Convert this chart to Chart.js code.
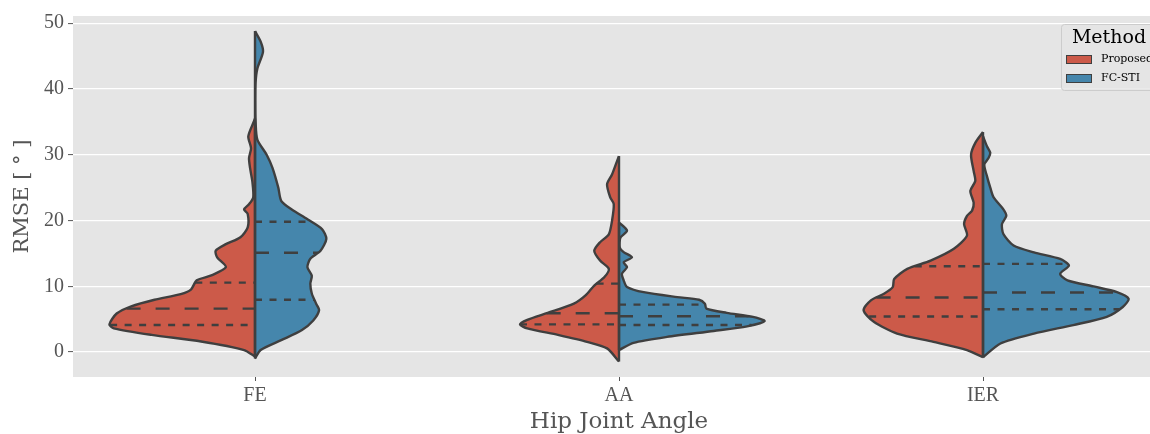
<!DOCTYPE html>
<html>
<head>
<meta charset="utf-8">
<script src="https://cdn.jsdelivr.net/npm/chart.js@4.4.1/dist/chart.umd.min.js"></script>
<style>
  html, body { margin: 0; padding: 0; background: #ffffff; width: 1150px; height: 434px; overflow: hidden; }
  #wrap { width: 1180px; height: 434px; }
</style>
</head>
<body>
<div id="wrap"><canvas id="c" width="1180" height="434"></canvas></div>
<script>
// ---- data ---------------------------------------------------------------
const categories = ['FE', 'AA', 'IER'];
const methods = ['Proposed', 'FC-STI'];
const yTicks = [0, 10, 20, 30, 40, 50];

// Kernel density profiles (RMSE level in degrees, relative density 0..1)
const feProposedLevels  = [-0.7, 0.3, 1.6, 2.6, 3.6, 4.2, 5.85, 6.95, 7.95, 8.8, 9.5, 10.9, 11.65, 12.9, 14.4, 15.4, 16.4, 17.45, 18.95, 21.0, 21.7, 22.5, 23.5, 25.9, 28.0, 29.5, 31.0, 32.8, 35.1, 35.5];
const feProposedDensity = [0, 0.075, 0.37, 0.71, 0.97, 1.0, 0.95, 0.85, 0.69, 0.51, 0.44, 0.40, 0.30, 0.20, 0.26, 0.27, 0.20, 0.10, 0.05, 0.05, 0.075, 0.04, 0.012, 0.018, 0.034, 0.041, 0.027, 0.046, 0.007, 0];

const feFcstiLevels  = [-1.0, 0.3, 1.8, 3.3, 4.8, 6.35, 7.35, 8.9, 10.4, 11.6, 12.9, 14.2, 15.4, 17.2, 18.7, 20.2, 21.7, 23.0, 25.0, 28.0, 30.0, 32.3, 35.0, 38.1, 41.0, 43.1, 45.65, 47.2, 48.8];
const feFcstiDensity = [0, 0.039, 0.18, 0.32, 0.40, 0.44, 0.42, 0.39, 0.38, 0.39, 0.36, 0.38, 0.45, 0.49, 0.46, 0.36, 0.25, 0.18, 0.16, 0.12, 0.08, 0.016, 0.004, 0.002, 0.004, 0.016, 0.055, 0.039, 0];

const aaProposedLevels  = [-1.45, 0.55, 1.55, 2.6, 3.6, 4.2, 4.9, 5.95, 7.35, 8.6, 10.1, 11.4, 12.65, 13.9, 15.4, 16.7, 17.9, 19.95, 22.5, 23.5, 25.5, 27.0, 29.0, 29.8];
const aaProposedDensity = [0, 0.082, 0.22, 0.42, 0.63, 0.68, 0.63, 0.49, 0.31, 0.23, 0.17, 0.10, 0.07, 0.13, 0.17, 0.13, 0.07, 0.048, 0.036, 0.06, 0.082, 0.048, 0.014, 0];

const aaFcstiLevels  = [0.3, 1.4, 2.3, 3.2, 3.9, 4.7, 5.35, 5.95, 6.6, 7.35, 7.95, 8.35, 9.1, 9.9, 10.9, 11.9, 12.9, 13.65, 14.4, 15.2, 15.9, 17.4, 18.45, 19.7];
const aaFcstiDensity = [0, 0.10, 0.33, 0.65, 0.88, 1.0, 0.92, 0.74, 0.60, 0.59, 0.55, 0.40, 0.17, 0.055, 0.032, 0.02, 0.055, 0.032, 0.089, 0.032, 0.005, 0.01, 0.055, 0];

const ierProposedLevels  = [-0.8, 0.3, 1.55, 2.8, 4.6, 6.35, 7.86, 8.87, 9.87, 11.1, 12.65, 13.9, 15.7, 17.7, 19.45, 20.7, 21.5, 22.7, 24.5, 26.0, 27.5, 30.0, 31.8, 33.45];
const ierProposedDensity = [0, 0.11, 0.34, 0.59, 0.75, 0.82, 0.77, 0.68, 0.62, 0.61, 0.52, 0.36, 0.20, 0.11, 0.13, 0.11, 0.075, 0.064, 0.087, 0.053, 0.064, 0.082, 0.053, 0];

const ierFcstiLevels  = [-0.8, 1.3, 2.8, 4.1, 5.35, 6.85, 8.1, 9.1, 9.97, 10.9, 11.9, 13.15, 14.15, 15.15, 16.2, 17.95, 19.45, 20.7, 21.7, 23.5, 25.0, 26.75, 28.5, 29.5, 30.3, 31.3, 32.8];
const ierFcstiDensity = [0, 0.12, 0.35, 0.62, 0.85, 0.96, 1.0, 0.92, 0.76, 0.58, 0.53, 0.59, 0.53, 0.35, 0.21, 0.14, 0.13, 0.16, 0.14, 0.073, 0.05, 0.027, 0.009, 0.038, 0.05, 0.027, 0];

// Quartiles [Q1, median, Q3]
const feProposedQuartiles  = [4.1, 6.6, 10.55];
const feFcstiQuartiles     = [7.95, 15.1, 19.8];
const aaProposedQuartiles  = [4.2, 5.9, 10.4];
const aaFcstiQuartiles     = [4.1, 5.45, 7.2];
const ierProposedQuartiles = [5.4, 8.3, 13.05];
const ierFcstiQuartiles    = [6.5, 9.05, 13.4];

// ---- styling --------------------------------------------------------------
const methodColors = ['#CC5A49', '#4586AC'];
const edgeColor = '#3F3F3F';
const HALF_WIDTH = 0.4;         // max half-width of a violin, in category units
const LINE_W = 2.4;
const TEXT_GREY = '#555555';

const halves = [
  { cat: 0, m: 0, levels: feProposedLevels,  dens: feProposedDensity,  q: feProposedQuartiles },
  { cat: 0, m: 1, levels: feFcstiLevels,     dens: feFcstiDensity,     q: feFcstiQuartiles },
  { cat: 1, m: 0, levels: aaProposedLevels,  dens: aaProposedDensity,  q: aaProposedQuartiles },
  { cat: 1, m: 1, levels: aaFcstiLevels,     dens: aaFcstiDensity,     q: aaFcstiQuartiles },
  { cat: 2, m: 0, levels: ierProposedLevels, dens: ierProposedDensity, q: ierProposedQuartiles },
  { cat: 2, m: 1, levels: ierFcstiLevels,    dens: ierFcstiDensity,    q: ierFcstiQuartiles },
];

function densityAt(levels, dens, v) {
  for (let i = 1; i < levels.length; i++) {
    if (v <= levels[i]) {
      const t = (v - levels[i - 1]) / (levels[i] - levels[i - 1]);
      return dens[i - 1] + t * (dens[i] - dens[i - 1]);
    }
  }
  return 0;
}

const datasets = [];
halves.forEach(h => {
  const side = h.m === 0 ? -1 : 1;
  // violin half outline (filled back to the centre line)
  datasets.push({
    label: methods[h.m],
    data: h.levels.map((v, i) => ({ x: h.cat + side * HALF_WIDTH * h.dens[i], y: v })),
    fill: 'shape',
    backgroundColor: methodColors[h.m],
    borderColor: edgeColor,
    borderWidth: LINE_W,
    borderJoinStyle: 'round',
    tension: 0.25,
    pointRadius: 0,
    order: 2
  });
  // centre line
  datasets.push({
    data: [{ x: h.cat, y: h.levels[0] }, { x: h.cat, y: h.levels[h.levels.length - 1] }],
    borderColor: edgeColor,
    borderWidth: LINE_W,
    fill: false,
    pointRadius: 0,
    order: 1
  });
  // quartile lines
  h.q.forEach((qv, k) => {
    const w = side * HALF_WIDTH * densityAt(h.levels, h.dens, qv);
    const pts = side < 0
      ? [{ x: h.cat + w, y: qv }, { x: h.cat, y: qv }]
      : [{ x: h.cat, y: qv }, { x: h.cat + w, y: qv }];
    datasets.push({
      data: pts,
      borderColor: edgeColor,
      borderWidth: LINE_W,
      borderDash: k === 1 ? [14, 15] : [7, 7.5],
      borderCapStyle: 'butt',
      fill: false,
      pointRadius: 0,
      order: 0
    });
  });
});

// legend drawn inside the plotting area (upper right)
const methodLegend = {
  id: 'methodLegend',
  afterDraw(chart) {
    const { ctx, chartArea } = chart;
    const w = 96, h = 66;
    const x0 = chartArea.right - 8 - w, y0 = chartArea.top + 8;
    ctx.save();
    ctx.beginPath();
    ctx.roundRect(x0 + 0.5, y0 + 0.5, w, h, 3);
    ctx.fillStyle = 'rgba(229,229,229,0.8)';
    ctx.fill();
    ctx.strokeStyle = '#CCCCCC';
    ctx.lineWidth = 1;
    ctx.stroke();
    ctx.fillStyle = '#000000';
    ctx.font = '19px "DejaVu Serif"';
    ctx.textAlign = 'center';
    ctx.textBaseline = 'alphabetic';
    ctx.fillText('Method', x0 + w / 2, y0 + 19);
    methods.forEach((name, i) => {
      const py = y0 + 31 + i * 19;
      ctx.fillStyle = methodColors[i];
      ctx.fillRect(x0 + 5, py, 25, 8);
      ctx.strokeStyle = edgeColor;
      ctx.lineWidth = 1;
      ctx.strokeRect(x0 + 5.5, py + 0.5, 25, 8);
      ctx.fillStyle = '#000000';
      ctx.font = '11px "DejaVu Serif"';
      ctx.textAlign = 'left';
      ctx.textBaseline = 'middle';
      ctx.fillText(name, x0 + 40, py + 4.5);
    });
    ctx.restore();
  }
};

// grey plotting background
const plotBackground = {
  id: 'plotBackground',
  beforeDraw(chart) {
    const { ctx, chartArea: a } = chart;
    ctx.save();
    ctx.fillStyle = '#E5E5E5';
    ctx.fillRect(a.left, a.top, a.right - a.left, a.bottom - a.top);
    ctx.restore();
  }
};

new Chart(document.getElementById('c'), {
  type: 'line',
  data: { datasets },
  plugins: [plotBackground, methodLegend],
  options: {
    responsive: false,
    animation: false,
    devicePixelRatio: 1,
    layout: { padding: { top: 14, right: 15, left: 0, bottom: 0 } },
    plugins: { legend: { display: false }, tooltip: { enabled: false } },
    scales: {
      x: {
        type: 'linear',
        min: -0.5,
        max: 2.5,
        afterBuildTicks: s => { s.ticks = categories.map((_, i) => ({ value: i })); },
        afterFit: s => { s.height = 57; },
        ticks: {
          callback: v => categories[Math.round(v)],
          font: { family: 'Liberation Serif', size: 20 },
          color: TEXT_GREY,
          padding: 3,
          autoSkip: false,
          maxRotation: 0
        },
        grid: { drawOnChartArea: false, drawTicks: true, tickLength: 4, tickColor: TEXT_GREY, tickWidth: 1 },
        border: { display: false },
        title: {
          display: true,
          text: 'Hip Joint Angle',
          font: { family: 'DejaVu Serif', size: 23, lineHeight: 1 },
          color: TEXT_GREY,
          padding: { top: 0, bottom: 0.5 }
        }
      },
      y: {
        type: 'linear',
        min: -3.8,
        max: 51.1,
        afterBuildTicks: s => { s.ticks = yTicks.map(v => ({ value: v })); },
        afterFit: s => { s.width = 73; },
        ticks: {
          font: { family: 'Liberation Serif', size: 20 },
          color: TEXT_GREY,
          padding: 4
        },
        grid: { color: '#FFFFFF', lineWidth: 1.2, drawTicks: true, tickLength: 5, tickColor: TEXT_GREY, tickWidth: 1 },
        border: { display: false },
        title: {
          display: true,
          text: 'RMSE [ ° ]',
          font: { family: 'DejaVu Serif', size: 21, lineHeight: 1 },
          color: TEXT_GREY,
          padding: { top: 12.5, bottom: 0 }
        }
      }
    }
  }
});
</script>
</body>
</html>
